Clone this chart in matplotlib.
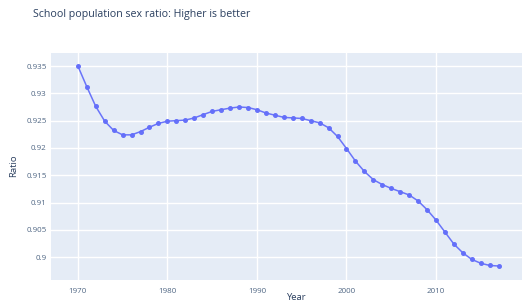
import matplotlib
matplotlib.use("Agg")
import matplotlib.pyplot as plt

years = list(range(1970, 2018))
ratio = [
    0.9350, 0.9312, 0.9276, 0.9249, 0.9232, 0.9224, 0.9224, 0.9230, 0.9238, 0.9245,
    0.9249, 0.9250, 0.9251, 0.9255, 0.9261, 0.9267, 0.9270, 0.9273, 0.9275, 0.9274,
    0.9270, 0.9264, 0.9260, 0.9256, 0.9255, 0.9254, 0.9250, 0.9246, 0.9237, 0.9221,
    0.9199, 0.9176, 0.9157, 0.9142, 0.9133, 0.9126, 0.9120, 0.9114, 0.9103, 0.9087,
    0.9068, 0.9046, 0.9024, 0.9008, 0.8996, 0.8989, 0.8985, 0.8984,
]
xticks = [1970, 1980, 1990, 2000, 2010]
yticks = [0.9, 0.905, 0.91, 0.915, 0.92, 0.925, 0.93, 0.935]
ytick_labels = ["0.9", "0.905", "0.91", "0.915", "0.92", "0.925", "0.93", "0.935"]

plt.rcParams["font.family"] = ["Open Sans", "DejaVu Sans"]

W, H = 522, 304
fig = plt.figure(figsize=(W / 100, H / 100), dpi=100)
left, right, top, bottom = 51, 522, 53, 280
ax = fig.add_axes([left / W, 1 - bottom / H, (right - left) / W, (bottom - top) / H])

ax.set_facecolor("#E5ECF6")
ax.plot(years, ratio, color="#636EFA", lw=1.1, marker="o", ms=2.6, alpha=0.95, zorder=3)

ax.set_xlim(1967.0, 2019.6)
ax.set_ylim(0.89584, 0.93738)
ax.set_xticks(xticks)
ax.set_yticks(yticks)
ax.set_yticklabels(ytick_labels)
ax.grid(True, color="white", lw=1)
ax.set_axisbelow(True)
for s in ax.spines.values():
    s.set_visible(False)
ax.tick_params(length=0, labelsize=5.8, colors="#506784")
ax.tick_params(axis="y", pad=3)
ax.tick_params(axis="x", pad=6)

ax.set_xlabel("Year", fontsize=6.8, color="#2a3f5f")
ax.set_ylabel("Ratio", fontsize=6.8, color="#2a3f5f")
ax.xaxis.set_label_coords((296 - left) / (right - left), (bottom - 298) / (bottom - top))
ax.yaxis.set_label_coords((14 - left) / (right - left), (bottom - 166) / (bottom - top))
ax.xaxis.label.set_va("center")
ax.yaxis.label.set_va("center")

fig.text(33 / W, 1 - 15 / H, "School population sex ratio: Higher is better",
         fontsize=7.7, color="#2a3f5f", va="center", ha="left")

fig.savefig("out.png", dpi=100)
